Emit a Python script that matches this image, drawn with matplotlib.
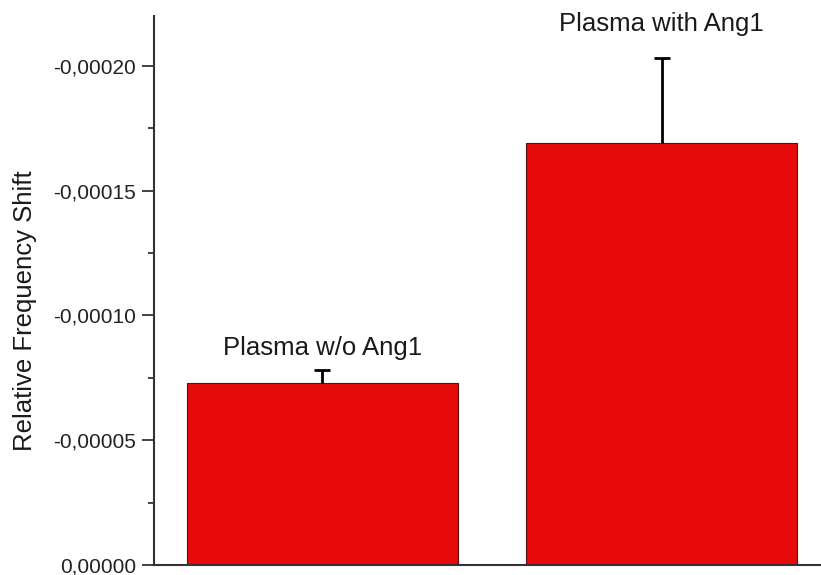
import matplotlib
matplotlib.use("Agg")
import matplotlib.pyplot as plt
from matplotlib.ticker import FuncFormatter, MultipleLocator

# data (relative frequency shift, negative values)
groups = ["Plasma w/o Ang1", "Plasma with Ang1"]
shift = [-0.0000728, -0.0001692]
shift_err = [0.0000052, 0.000034]
label_y = [-0.000087, -0.0002168]

plt.rcParams["font.family"] = ["Liberation Sans", "DejaVu Sans"]

fig = plt.figure(figsize=(8.21, 5.75), dpi=100)
ax = fig.add_axes([0.1876, 0.0174, 0.8124, 0.9546])

x = [1, 2]
ax.bar(x, shift, width=0.8, color="#e60a0a", edgecolor="#5a1010", linewidth=0.8)
_, caps, _ = ax.errorbar(x, shift, yerr=[shift_err, [0, 0]], fmt="none",
                         ecolor="black", elinewidth=2, capsize=6, capthick=2)
# one-sided error bars: hide the cap sitting on the bar top
caps[1].set_visible(False)

for xi, name, ly in zip(x, groups, label_y):
    ax.text(xi, ly, name, ha="center", va="center", fontsize=18.5, color="#1a1a1a",
            clip_on=False)

ax.set_xlim(0.504, 2.47)
ax.set_ylim(0, -0.00022)

ax.yaxis.set_major_locator(MultipleLocator(0.00005))
ax.yaxis.set_minor_locator(MultipleLocator(0.000025))
ax.yaxis.set_major_formatter(FuncFormatter(lambda v, p: f"{v:.5f}".replace(".", ",")
                                           if abs(v) > 1e-12 else "0,00000"))
ax.tick_params(axis="y", which="major", direction="out", length=9, width=1.2,
               labelsize=15, colors="#222222", pad=4)
ax.tick_params(axis="y", which="minor", direction="out", length=4.5, width=1.2,
               colors="#222222")
ax.set_xticks([])

ax.set_ylabel("Relative Frequency Shift", fontsize=18.5, color="#1a1a1a")
ax.yaxis.set_label_coords(-0.176, 0.463)

for side in ["top", "right"]:
    ax.spines[side].set_visible(False)
for side in ["left", "bottom"]:
    ax.spines[side].set_linewidth(1.5)
    ax.spines[side].set_color("#333333")

fig.savefig("out.png", dpi=100)
